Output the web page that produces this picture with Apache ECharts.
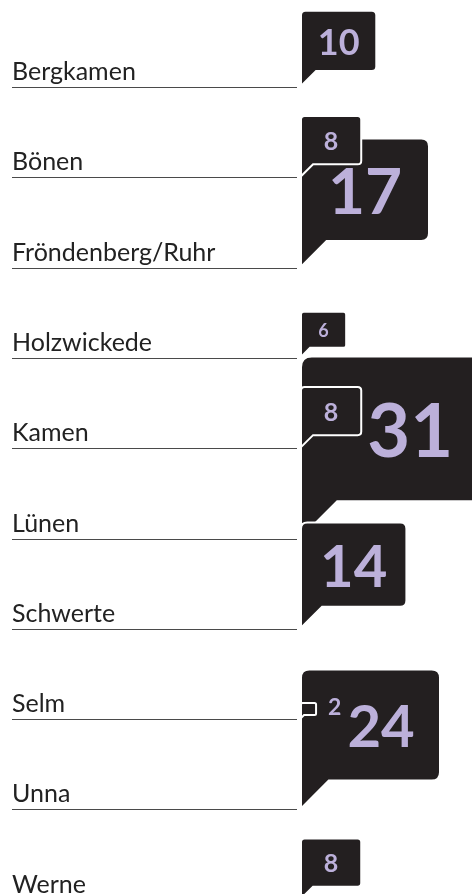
<!DOCTYPE html>
<html>
<head>
<meta charset="utf-8">
<script src="https://cdn.jsdelivr.net/npm/echarts@6/dist/echarts.min.js"></script>
<style>
  html, body { margin: 0; padding: 0; background: #fff; }
  #main { width: 472px; height: 894px; }
</style>
</head>
<body>
<div id="main"></div>
<script>
// cities (one row each) and the number shown in each speech bubble
const cities = ['Bergkamen', 'Bönen', 'Fröndenberg/Ruhr', 'Holzwickede', 'Kamen', 'Lünen', 'Schwerte', 'Selm', 'Unna', 'Werne'];
const counts = [10, 8, 17, 6, 8, 31, 14, 2, 24, 8];

const INK = '#231f20';
const LILAC = '#bcb0da';
const FONT = 'Lato';
const LABEL_X = 12;
const LINE_END = 297;
const BUBBLE_X = 301;

// piecewise linear scale helper
function interp(stops, v) {
  if (v <= stops[0][0]) return stops[0][1];
  for (let i = 1; i < stops.length; i++) {
    const a = stops[i - 1], b = stops[i];
    if (v <= b[0]) return a[1] + (v - a[0]) / (b[0] - a[0]) * (b[1] - a[1]);
  }
  return stops[stops.length - 1][1];
}
// bubble side length and number font size for a given count
const sizeStops = [[0, 0], [17, 128], [24, 139], [31, 181]];
const fontStops = [[6, 18], [8, 25], [14, 58], [17, 64], [24, 58], [31, 74]];

const measureCtx = document.createElement('canvas').getContext('2d');
function textWidth(str, size) {
  measureCtx.font = 'bold ' + size + 'px ' + FONT;
  return measureCtx.measureText(str).width;
}

// geometry of bubble i, without collision handling
function baseLayout(i, api) {
  const lineY = api.coord([0, i])[1];
  const s = interp(sizeStops, counts[i]);
  const top = lineY - 1 - s;
  const bodyH = s * 0.8;
  const inside = s >= 30;
  const fs = inside ? interp(fontStops, counts[i]) : 23;
  const txt = String(counts[i]);
  const w = textWidth(txt, fs);
  const cx = inside ? BUBBLE_X + s / 2 : BUBBLE_X + s + 12 + w / 2;
  const cy = inside ? top + bodyH / 2 : top + bodyH / 2 - 3;
  return { lineY, s, top, bodyH, inside, fs, txt, w, cx, cy };
}

function bubblePath(L) {
  const x0 = BUBBLE_X, x1 = x0 + L.s, y0 = L.top, yb = L.top + L.bodyH, tip = L.top + L.s;
  const r = Math.max(1.5, L.s * 0.06);
  const tw = L.s * 0.2;
  return 'M' + (x0 + r) + ' ' + y0 +
    'L' + (x1 - r) + ' ' + y0 +
    'Q' + x1 + ' ' + y0 + ' ' + x1 + ' ' + (y0 + r) +
    'L' + x1 + ' ' + (yb - r) +
    'Q' + x1 + ' ' + yb + ' ' + (x1 - r) + ' ' + yb +
    'L' + (x0 + tw) + ' ' + yb +
    'L' + x0 + ' ' + tip +
    'L' + x0 + ' ' + (y0 + r) +
    'Q' + x0 + ' ' + y0 + ' ' + (x0 + r) + ' ' + y0 + 'Z';
}

// smaller bubbles sit on top; push the number right if one covers it
function layoutBubble(i, api) {
  const L = baseLayout(i, api);
  if (!L.inside) return L;
  const dh = L.fs * 0.72;
  let shift = 0;
  counts.forEach(function (v, j) {
    if (j === i || v >= counts[i]) return;
    const o = baseLayout(j, api);
    const right = o.inside ? BUBBLE_X + o.s : o.cx + o.w / 2;
    const oTop = Math.min(o.top, o.cy - o.fs * 0.36);
    const oBot = o.top + o.bodyH;
    const tTop = L.cy - dh / 2, tBot = L.cy + dh / 2;
    const left = L.cx - L.w / 2;
    if (oBot > tTop && oTop < tBot && right + 6 > left) {
      shift = Math.max(shift, right + 6 - left);
    }
  });
  L.cx += shift;
  return L;
}

const order = counts.map(function (v, i) { return i; })
  .sort(function (a, b) { return counts[b] - counts[a]; });

const chart = echarts.init(document.getElementById('main'));

const ROW = 90.3;
const option = {
  animation: false,
  grid: { left: 0, right: 0, top: 87, bottom: 0 },
  xAxis: { type: 'value', min: 0, max: 472, show: false },
  yAxis: { type: 'value', inverse: true, min: 0, max: (894 - 87) / ROW, show: false },
  series: [
    {
      type: 'custom',
      clip: false,
      data: cities.map(function (c, i) { return [0, i]; }),
      encode: { x: 0, y: 1 },
      renderItem: function (params, api) {
        const i = api.value(1);
        const y = Math.round(api.coord([0, i])[1]) + 0.5;
        return {
          type: 'group',
          children: [
            {
              type: 'line',
              shape: { x1: LABEL_X, y1: y, x2: LINE_END, y2: y },
              style: { stroke: '#4a4a4a', lineWidth: 1 }
            },
            {
              type: 'text',
              x: LABEL_X, y: y - 3,
              style: { text: cities[i], fontFamily: FONT, fontSize: 25, fill: '#222', align: 'left', verticalAlign: 'bottom' }
            }
          ]
        };
      }
    },
    {
      type: 'custom',
      clip: false,
      data: order.map(function (i) { return [0, i]; }),
      encode: { x: 0, y: 1 },
      renderItem: function (params, api) {
        const i = api.value(1);
        const L = layoutBubble(i, api);
        return {
          type: 'group',
          children: [
            {
              type: 'path',
              shape: { pathData: bubblePath(L) },
              style: { fill: INK, stroke: '#fff', lineWidth: 2 }
            },
            {
              type: 'text',
              x: L.cx, y: L.cy + L.fs * 0.06,
              style: { text: L.txt, fontFamily: FONT, fontWeight: 'bold', fontSize: L.fs, fill: LILAC, align: 'center', verticalAlign: 'middle' }
            }
          ]
        };
      }
    }
  ]
};

chart.setOption(option);
</script>
</body>
</html>
